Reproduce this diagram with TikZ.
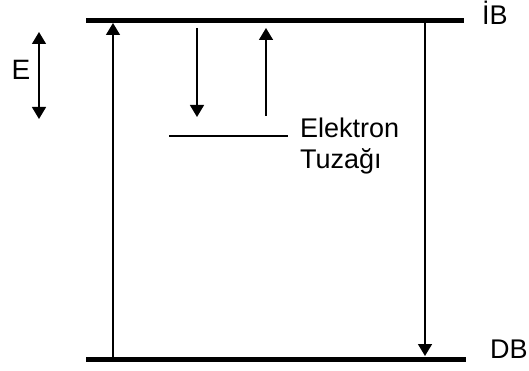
\documentclass[tikz,border=0pt]{standalone}
\usepackage{fontspec}
\setmainfont{Liberation Sans}
\usetikzlibrary{arrows.meta}
\begin{document}
\begin{tikzpicture}[x=1pt,y=-1pt,
  band/.style={line width=5pt},
  trans/.style={line width=1.5pt,-{Triangle[width=14pt,length=12pt]}},
  lbl/.style={inner sep=0pt,font=\fontsize{27}{31}\selectfont}]
\useasboundingbox (0,0) rectangle (529,371);
% bands
\coordinate (ibL) at (86,20.5);
\coordinate (ibR) at (464,20.5);
\coordinate (dbL) at (86,359.5);
\coordinate (dbR) at (466,359.5);
\draw[band] (ibL) -- (ibR);
\draw[band] (dbL) -- (dbR);
% trap level
\coordinate (trL) at (169,136);
\coordinate (trR) at (288,136);
\draw[line width=2pt] (trL) -- (trR);
% labels
\node[lbl,anchor=base west] (ib) at (482,25) {İB};
\node[lbl,anchor=base west] (db) at (490,358) {DB};
\node[lbl,anchor=north west,align=left] (trap) at (300,118) {Elektron\\Tuzağı};
\node[lbl,font=\fontsize{28}{31}\selectfont] (e) at (21,70) {E};
% arrows
\coordinate (a1s) at (113,357);
\coordinate (a1e) at (113,23);
\draw[trans] (a1s) -- (a1e);
\coordinate (a2s) at (425,23);
\coordinate (a2e) at (425,356);
\draw[trans] (a2s) -- (a2e);
\coordinate (a3s) at (197,28);
\coordinate (a3e) at (197,117);
\draw[trans] (a3s) -- (a3e);
\coordinate (a4s) at (266,116);
\coordinate (a4e) at (266,28);
\draw[trans] (a4s) -- (a4e);
\coordinate (eT) at (39,32);
\coordinate (eB) at (39,119);
\draw[line width=1.5pt,{Triangle[width=14pt,length=12pt]}-{Triangle[width=14pt,length=12pt]}] (eT) -- (eB);
\end{tikzpicture}
\end{document}
